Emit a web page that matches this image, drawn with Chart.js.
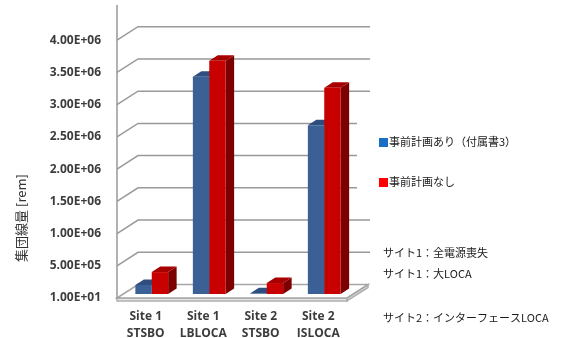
<!DOCTYPE html>
<html>
<head>
<meta charset="utf-8">
<script src="https://cdn.jsdelivr.net/npm/chart.js@4"></script>
<style>
    body { margin: 0; background: white; }
    #wrap { width: 574px; height: 338px; }
</style>
</head>
<body>
<div id="wrap"><canvas id="graphic"></canvas></div>
<script>
let categories = [["Site 1", "STSBO"], ["Site 1", "LBLOCA"], ["Site 2", "STSBO"], ["Site 2", "ISLOCA"]]
let withPlan = [140000, 3370000, 10000, 2620000]
let withoutPlan = [340000, 3620000, 170000, 3200000]
let seriesNames = ["事前計画あり（付属書3）", "事前計画なし"]
let yTicks = [10, 500000, 1000000, 1500000, 2000000, 2500000, 3000000, 3500000, 4000000]
let yMax = 4500000
let notes = ["サイト1：全電源喪失", "サイト1：大LOCA", "サイト2：インターフェースLOCA"]

let blueFront = "#3a6096"
let blueTop = "#2d4e7e"
let blueSide = "#243f66"
let redFront = "#c80000"
let redTop = "#a80000"
let redSide = "#7c0000"
let gridColor = "#999999"

// depth offsets relative to the plane the bars stand on
let frontOff = [-6, 4]
let backOff = [15, -9.5]
let barDepth = [8.5, -5.5]

function fmt(v) {
    let e = Math.floor(Math.log10(v))
    let m = v / Math.pow(10, e)
    return m.toFixed(2) + "E+" + String(e).padStart(2, "0")
}

function poly(ctx, pts, fill, stroke) {
    ctx.beginPath()
    ctx.moveTo(pts[0][0], pts[0][1])
    for (let i = 1; i < pts.length; i++) ctx.lineTo(pts[i][0], pts[i][1])
    ctx.closePath()
    if (fill) { ctx.fillStyle = fill; ctx.fill() }
    if (stroke) { ctx.strokeStyle = stroke; ctx.stroke() }
}

let walls = {
    id: "walls",
    beforeDatasetsDraw(chart) {
        let ctx = chart.ctx
        let a = chart.chartArea
        let y = chart.scales.y
        ctx.save()
        ctx.lineWidth = 1.5

        // floor slab
        let fl = a.left + frontOff[0], fr = a.right + frontOff[0], fy = a.bottom + frontOff[1]
        let bl = a.left + backOff[0], br = a.right + backOff[0], by = a.bottom + backOff[1]
        poly(ctx, [[fl, fy], [fr, fy], [fr, fy + 3], [fl, fy + 3]], "#e6e6e6", "#b0b0b0")
        poly(ctx, [[fr, fy], [br, by], [br, by + 3], [fr, fy + 3]], "#d9d9d9", "#b0b0b0")
        poly(ctx, [[fl, fy], [bl, by], [br, by], [fr, fy]], "#ffffff", "#a6a6a6")

        // gridlines on the back wall with the diagonal from the front edge
        ctx.strokeStyle = gridColor
        yTicks.forEach(function (v, i) {
            if (i == 0) return
            let p = y.getPixelForValue(v)
            ctx.beginPath()
            ctx.moveTo(a.left + frontOff[0], p + frontOff[1])
            ctx.lineTo(a.left + backOff[0], p + backOff[1])
            ctx.lineTo(a.right + backOff[0] + 2, p + backOff[1])
            ctx.stroke()
        })

        // front edge of the side wall
        ctx.beginPath()
        ctx.moveTo(a.left + frontOff[0], a.top + 1)
        ctx.lineTo(a.left + frontOff[0], a.bottom + frontOff[1])
        ctx.stroke()

        // tops and sides of the bars, fronts come from the library
        let tops = [blueTop, redTop]
        let sides = [blueSide, redSide]
        for (let d = 0; d < 2; d++) {
            chart.getDatasetMeta(d).data.forEach(function (bar) {
                let x0 = bar.x - bar.width / 2
                let x1 = bar.x + bar.width / 2
                let t = bar.y
                let b = bar.base
                poly(ctx, [[x1, t], [x1 + barDepth[0], t + barDepth[1]], [x1 + barDepth[0], b + barDepth[1]], [x1, b]], sides[d])
                poly(ctx, [[x0, t], [x1, t], [x1 + barDepth[0], t + barDepth[1]], [x0 + barDepth[0], t + barDepth[1]]], tops[d])
            })
        }
        ctx.restore()
    },
    afterDraw(chart) {
        let ctx = chart.ctx
        ctx.save()

        // axis title
        ctx.translate(21, 218)
        ctx.rotate(-Math.PI / 2)
        ctx.fillStyle = "#333333"
        ctx.font = "13px 'Noto Sans CJK JP'"
        ctx.textAlign = "center"
        ctx.textBaseline = "middle"
        ctx.fillText("集団線量 [rem]", 0, 0)
        ctx.setTransform(1, 0, 0, 1, 0, 0)

        // legend box
        ctx.fillStyle = "#ffffff"
        ctx.fillRect(357, 108, 217, 100)
        ctx.font = "11px 'Noto Sans CJK JP'"
        ctx.textAlign = "left"
        ctx.textBaseline = "middle"
        let sw = ["#1a6fc4", "#ff0000"]
        let ly = [142, 182]
        for (let i = 0; i < 2; i++) {
            ctx.fillStyle = sw[i]
            ctx.fillRect(379, ly[i] - 4, 9, 9)
            ctx.fillStyle = "#1a1a1a"
            ctx.fillText(seriesNames[i], 389, ly[i])
        }

        // notes
        let ny = [253, 274, 318]
        notes.forEach(function (n, i) {
            ctx.fillText(n, 383, ny[i])
        })
        ctx.restore()
    },
}

const chartID = document.getElementById("graphic").getContext("2d")
let graphic = new Chart(chartID, {
    type: "bar",
    data: {
        labels: categories,
        datasets: [
            {
                label: seriesNames[0],
                data: withPlan,
                backgroundColor: blueFront,
                borderWidth: 0,
            },
            {
                label: seriesNames[1],
                data: withoutPlan,
                backgroundColor: redFront,
                borderWidth: 0,
            },
        ],
    },
    options: {
        responsive: true,
        maintainAspectRatio: false,
        animation: false,
        layout: { padding: { left: 0, right: 221, top: 4, bottom: 0 } },
        plugins: { legend: { display: false }, tooltip: { enabled: false } },
        datasets: { bar: { categoryPercentage: 0.57, barPercentage: 1 } },
        scales: {
            x: {
                grid: { display: false, drawTicks: false },
                border: { display: false },
                afterFit(scale) { scale.height = 44 },
                ticks: {
                    color: "#3c3c3c",
                    font: { family: "'Open Sans'", size: 12, weight: "bold", lineHeight: 1.4 },
                    padding: 14,
                    labelOffset: -6,
                    maxRotation: 0,
                },
            },
            y: {
                min: 10,
                max: yMax,
                grid: { display: false, drawTicks: false },
                border: { display: false },
                afterFit(scale) {
                    scale.width = 123
                    scale.paddingTop = 0
                    scale.paddingBottom = 0
                },
                afterBuildTicks(scale) {
                    scale.ticks = yTicks.map(function (v) { return { value: v } })
                },
                ticks: {
                    color: "#3c3c3c",
                    font: { family: "'Open Sans'", size: 12, weight: "bold" },
                    padding: 22,
                    labelOffset: 4,
                    callback: function (v) { return fmt(v) },
                },
            },
        },
    },
    plugins: [walls],
})
</script>
</body>
</html>
